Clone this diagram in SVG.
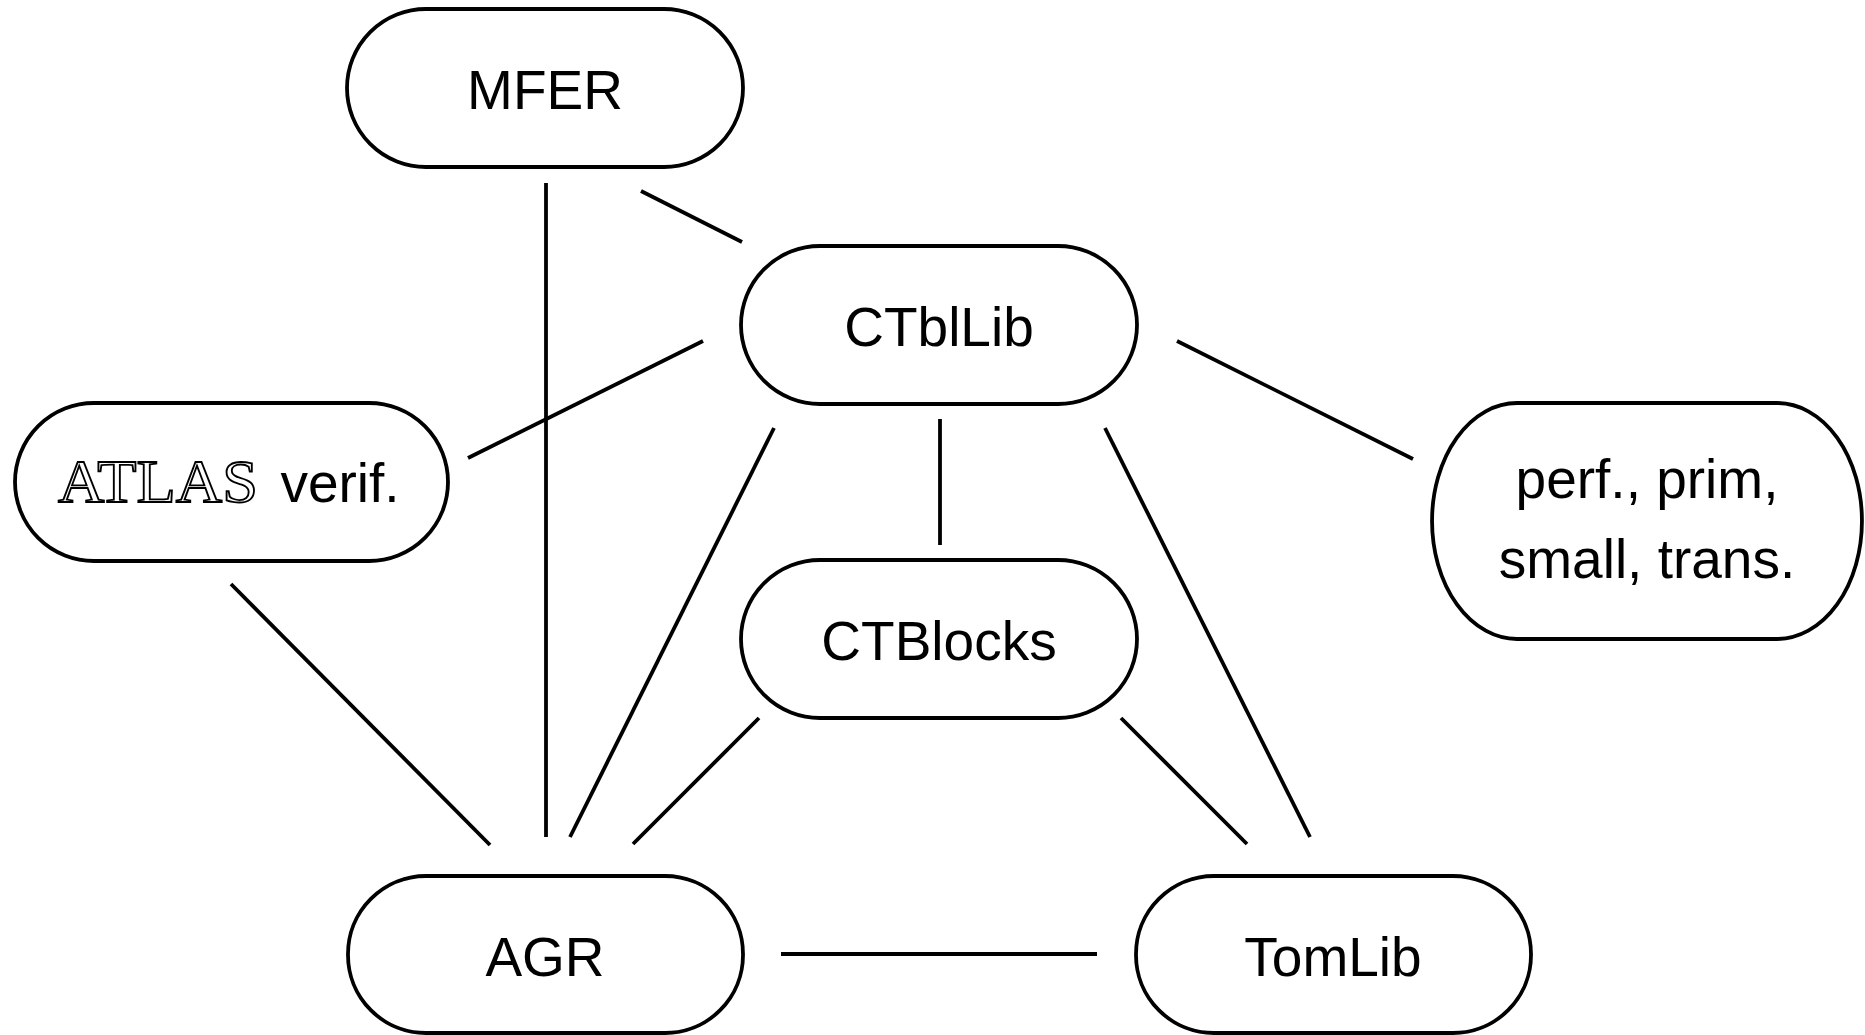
<svg xmlns="http://www.w3.org/2000/svg" width="1865" height="1035" viewBox="0 0 1865 1035">
<style>
.n{fill:#fff;stroke:#000;stroke-width:3.8}
.t{font-family:"Liberation Sans",Arial,sans-serif;font-size:55px;fill:#000;text-anchor:middle}
.e{stroke:#000;stroke-width:3.8;fill:none}
.o{font-family:"Liberation Serif","Times New Roman",serif;font-size:61px;fill:#fff;stroke:#000;stroke-width:1.8}
</style>
<rect width="1865" height="1035" fill="#fff"/>
<g id="edges">
<line class="e" x1="546" y1="183" x2="546" y2="837"/>
<line class="e" x1="641" y1="191" x2="742" y2="242"/>
<line class="e" x1="703" y1="341" x2="468" y2="458"/>
<line class="e" x1="1177" y1="341" x2="1413" y2="459"/>
<line class="e" x1="774" y1="428" x2="570" y2="837"/>
<line class="e" x1="940" y1="419" x2="940" y2="545"/>
<line class="e" x1="1105" y1="428" x2="1310" y2="837"/>
<line class="e" x1="231" y1="584" x2="490" y2="845"/>
<line class="e" x1="759" y1="718" x2="633" y2="844"/>
<line class="e" x1="1121" y1="718" x2="1247" y2="844"/>
<line class="e" x1="781" y1="954" x2="1097" y2="954"/>
</g>
<g id="MFER">
<rect class="n" x="347" y="9" width="396" height="158" rx="79" ry="79"/>
<text class="t" x="545" y="109">MFER</text>
</g>
<g id="CTblLib">
<rect class="n" x="741" y="246" width="396" height="158" rx="79" ry="79"/>
<text class="t" x="939" y="346">CTblLib</text>
</g>
<g id="ATLAS">
<rect class="n" x="15" y="403" width="433" height="158" rx="79" ry="79"/>
<text x="58" y="502" class="o" textLength="200" lengthAdjust="spacingAndGlyphs">ATLAS</text>
<text x="340" y="502" class="t">verif.</text>
</g>
<g id="perf">
<path class="n" d="M1517,403 L1777,403 A85,118 0 0 1 1777,639 L1517,639 A85,118 0 0 1 1517,403 Z"/>
<text class="t" x="1647" y="498">perf., prim,</text>
<text class="t" x="1647" y="578">small, trans.</text>
</g>
<g id="CTBlocks">
<rect class="n" x="741" y="560" width="396" height="158" rx="79" ry="79"/>
<text class="t" x="939" y="660">CTBlocks</text>
</g>
<g id="AGR">
<rect class="n" x="348" y="876" width="395" height="157" rx="78" ry="78"/>
<text class="t" x="545" y="976">AGR</text>
</g>
<g id="TomLib">
<rect class="n" x="1136" y="876" width="395" height="157" rx="78" ry="78"/>
<text class="t" x="1333" y="976">TomLib</text>
</g>
</svg>
